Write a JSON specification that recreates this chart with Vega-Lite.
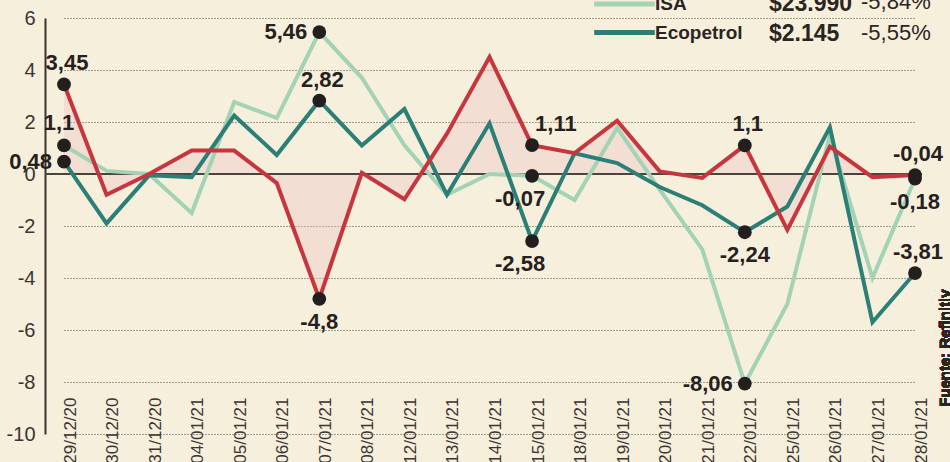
{
  "$schema": "https://vega.github.io/schema/vega-lite/v6.json",
  "width": 877,
  "height": 416,
  "autosize": {"type": "none"},
  "padding": {"left": 45, "top": 18, "right": 28, "bottom": 28},
  "background": "#f6efdc",
  "config": {
    "view": {"stroke": null},
    "font": "Liberation Sans",
    "legend": {"padding": 0},
    "axisY": {"domain": true, "domainColor": "#3a3431", "domainWidth": 2, "domainOpacity": 1},
    "locale": {
      "number": {"decimal": ",", "thousands": ".", "grouping": [3], "currency": ["$", ""], "minus": "-"}
    }
  },
  "data": {
    "values": [
      {"fecha": "29/12/20", "serie": "ISA", "valor": 1.1},
      {"fecha": "30/12/20", "serie": "ISA", "valor": 0.12},
      {"fecha": "31/12/20", "serie": "ISA", "valor": 0.0},
      {"fecha": "04/01/21", "serie": "ISA", "valor": -1.5},
      {"fecha": "05/01/21", "serie": "ISA", "valor": 2.77},
      {"fecha": "06/01/21", "serie": "ISA", "valor": 2.15},
      {"fecha": "07/01/21", "serie": "ISA", "valor": 5.46},
      {"fecha": "08/01/21", "serie": "ISA", "valor": 3.7},
      {"fecha": "12/01/21", "serie": "ISA", "valor": 1.1},
      {"fecha": "13/01/21", "serie": "ISA", "valor": -0.8},
      {"fecha": "14/01/21", "serie": "ISA", "valor": 0.0},
      {"fecha": "15/01/21", "serie": "ISA", "valor": -0.07},
      {"fecha": "18/01/21", "serie": "ISA", "valor": -1.0},
      {"fecha": "19/01/21", "serie": "ISA", "valor": 1.77},
      {"fecha": "20/01/21", "serie": "ISA", "valor": -0.6},
      {"fecha": "21/01/21", "serie": "ISA", "valor": -2.9},
      {"fecha": "22/01/21", "serie": "ISA", "valor": -8.06},
      {"fecha": "25/01/21", "serie": "ISA", "valor": -5.0},
      {"fecha": "26/01/21", "serie": "ISA", "valor": 1.5},
      {"fecha": "27/01/21", "serie": "ISA", "valor": -4.0},
      {"fecha": "28/01/21", "serie": "ISA", "valor": -0.18},
      {"fecha": "29/12/20", "serie": "Ecopetrol", "valor": 0.48},
      {"fecha": "30/12/20", "serie": "Ecopetrol", "valor": -1.9},
      {"fecha": "31/12/20", "serie": "Ecopetrol", "valor": -0.05},
      {"fecha": "04/01/21", "serie": "Ecopetrol", "valor": -0.12},
      {"fecha": "05/01/21", "serie": "Ecopetrol", "valor": 2.25},
      {"fecha": "06/01/21", "serie": "Ecopetrol", "valor": 0.73},
      {"fecha": "07/01/21", "serie": "Ecopetrol", "valor": 2.82},
      {"fecha": "08/01/21", "serie": "Ecopetrol", "valor": 1.1},
      {"fecha": "12/01/21", "serie": "Ecopetrol", "valor": 2.5},
      {"fecha": "13/01/21", "serie": "Ecopetrol", "valor": -0.8},
      {"fecha": "14/01/21", "serie": "Ecopetrol", "valor": 1.95},
      {"fecha": "15/01/21", "serie": "Ecopetrol", "valor": -2.58},
      {"fecha": "18/01/21", "serie": "Ecopetrol", "valor": 0.8},
      {"fecha": "19/01/21", "serie": "Ecopetrol", "valor": 0.42},
      {"fecha": "20/01/21", "serie": "Ecopetrol", "valor": -0.5},
      {"fecha": "21/01/21", "serie": "Ecopetrol", "valor": -1.2},
      {"fecha": "22/01/21", "serie": "Ecopetrol", "valor": -2.24},
      {"fecha": "25/01/21", "serie": "Ecopetrol", "valor": -1.25},
      {"fecha": "26/01/21", "serie": "Ecopetrol", "valor": 1.8},
      {"fecha": "27/01/21", "serie": "Ecopetrol", "valor": -5.7},
      {"fecha": "28/01/21", "serie": "Ecopetrol", "valor": -3.81},
      {"fecha": "29/12/20", "serie": "Otra acción", "valor": 3.45},
      {"fecha": "30/12/20", "serie": "Otra acción", "valor": -0.8},
      {"fecha": "31/12/20", "serie": "Otra acción", "valor": 0.0},
      {"fecha": "04/01/21", "serie": "Otra acción", "valor": 0.9},
      {"fecha": "05/01/21", "serie": "Otra acción", "valor": 0.9},
      {"fecha": "06/01/21", "serie": "Otra acción", "valor": -0.35},
      {"fecha": "07/01/21", "serie": "Otra acción", "valor": -4.8},
      {"fecha": "08/01/21", "serie": "Otra acción", "valor": 0.05},
      {"fecha": "12/01/21", "serie": "Otra acción", "valor": -0.97},
      {"fecha": "13/01/21", "serie": "Otra acción", "valor": 1.55},
      {"fecha": "14/01/21", "serie": "Otra acción", "valor": 4.5},
      {"fecha": "15/01/21", "serie": "Otra acción", "valor": 1.11},
      {"fecha": "18/01/21", "serie": "Otra acción", "valor": 0.8},
      {"fecha": "19/01/21", "serie": "Otra acción", "valor": 2.05},
      {"fecha": "20/01/21", "serie": "Otra acción", "valor": 0.1},
      {"fecha": "21/01/21", "serie": "Otra acción", "valor": -0.15},
      {"fecha": "22/01/21", "serie": "Otra acción", "valor": 1.1},
      {"fecha": "25/01/21", "serie": "Otra acción", "valor": -2.15},
      {"fecha": "26/01/21", "serie": "Otra acción", "valor": 1.05},
      {"fecha": "27/01/21", "serie": "Otra acción", "valor": -0.12},
      {"fecha": "28/01/21", "serie": "Otra acción", "valor": -0.04}
    ]
  },
  "layer": [
    {
      "transform": [{"filter": "datum.serie == 'Otra acción'"}],
      "mark": {"type": "area", "color": "#efc2c4", "opacity": 0.38},
      "encoding": {
        "x": {"field": "fecha", "type": "ordinal", "sort": null, "scale": {"type": "point", "range": [19, 870], "padding": 0},
          "axis": {"title": null, "domain": false, "ticks": false, "grid": false, "labelAngle": -90, "labelAlign": "right", "labelBaseline": "middle",
            "labelPadding": -37, "labelOffset": 6, "labelFontSize": 17, "labelColor": "#3a3533"}},
        "y": {"field": "valor", "type": "quantitative", "scale": {"domain": [-10, 6], "nice": false, "zero": false},
          "axis": {"title": null, "values": [-10, -8, -6, -4, -2, 0, 2, 4, 6], "domain": true, "domainColor": "#3a3431", "domainWidth": 2,
            "ticks": false, "labelPadding": 10, "labelFontSize": 20, "labelColor": "#3a3533",
            "grid": true, "gridColor": "#4a4542", "gridDash": [1, 2], "gridWidth": 1}},
        "y2": {"datum": 0}
      }
    },
    {
      "mark": {"type": "rule", "color": "#4a4440", "strokeWidth": 1.5},
      "encoding": {"y": {"datum": 0}}
    },
    {
      "mark": {"type": "line", "strokeJoin": "miter"},
      "encoding": {
        "x": {"field": "fecha", "type": "ordinal", "sort": null},
        "y": {"field": "valor", "type": "quantitative"},
        "color": {"field": "serie", "type": "nominal",
          "scale": {"domain": ["ISA", "Ecopetrol", "Otra acción"], "range": ["#a3d2b4", "#2c7f76", "#c7353d"]},
          "legend": {"orient": "none", "legendX": 568, "legendY": -25.5, "values": ["ISA", "Ecopetrol"], "title": null,
            "symbolType": "M-3.5,0H3.5", "symbolSize": 300, "symbolStrokeWidth": 5, "rowPadding": 6.5, "labelOffset": 19,
            "labelFontSize": 19, "labelFontWeight": "bold", "labelColor": "#2a2523"}},
        "opacity": {"field": "serie", "type": "nominal",
          "scale": {"domain": ["Ecopetrol", "ISA", "Otra acción"], "range": [1, 1, 1]},
          "legend": {"orient": "none", "legendX": 701, "legendY": -26, "values": ["ISA", "Ecopetrol"], "title": null,
            "symbolSize": 0, "symbolOpacity": 0, "labelOffset": 0, "rowPadding": 6.5,
            "labelFontSize": 23, "labelFontWeight": "bold", "labelColor": "#2a2523",
            "labelExpr": "datum.label == 'ISA' ? '$23.990' : '$2.145'"}},
        "strokeWidth": {"field": "serie", "type": "nominal",
          "scale": {"domain": ["Otra acción", "ISA", "Ecopetrol"], "range": [4, 4, 4]},
          "legend": {"orient": "none", "legendX": 794, "legendY": -27, "values": ["ISA", "Ecopetrol"], "title": null,
            "symbolSize": 0, "symbolOpacity": 0, "symbolStrokeWidth": 0, "labelOffset": 0, "rowPadding": 8.5,
            "labelFontSize": 22, "labelColor": "#2a2523",
            "labelExpr": "datum.label == 'ISA' ? '-5,84%' : '-5,55%'"}}
      }
    },
    {
      "transform": [{"filter": {"field": "fecha", "oneOf": ["29/12/20", "07/01/21", "15/01/21", "22/01/21", "28/01/21"]}}],
      "mark": {"type": "circle", "size": 190, "color": "#231f1f", "opacity": 1},
      "encoding": {
        "x": {"field": "fecha", "type": "ordinal", "sort": null},
        "y": {"field": "valor", "type": "quantitative"}
      }
    },
    {
      "transform": [{"filter": "indexof(['Otra acción|29/12/20','Ecopetrol|07/01/21','Otra acción|22/01/21','Otra acción|28/01/21','Ecopetrol|28/01/21'], datum.serie + '|' + datum.fecha) >= 0"}],
      "mark": {"type": "text", "dy": -21, "dx": 3, "fontSize": 22, "fontWeight": "bold", "color": "#262120", "baseline": "middle"},
      "encoding": {
        "x": {"field": "fecha", "type": "ordinal", "sort": null},
        "y": {"field": "valor", "type": "quantitative"},
        "text": {"field": "valor", "type": "quantitative", "format": ".2~f"}
      }
    },
    {
      "transform": [{"filter": "indexof(['ISA|29/12/20'], datum.serie + '|' + datum.fecha) >= 0"}],
      "mark": {"type": "text", "dy": -22, "dx": -5, "fontSize": 22, "fontWeight": "bold", "color": "#262120", "baseline": "middle"},
      "encoding": {
        "x": {"field": "fecha", "type": "ordinal", "sort": null},
        "y": {"field": "valor", "type": "quantitative"},
        "text": {"field": "valor", "type": "quantitative", "format": ".2~f"}
      }
    },
    {
      "transform": [{"filter": "indexof(['Otra acción|07/01/21','Ecopetrol|22/01/21','ISA|28/01/21'], datum.serie + '|' + datum.fecha) >= 0"}],
      "mark": {"type": "text", "dy": 23, "fontSize": 22, "fontWeight": "bold", "color": "#262120", "baseline": "middle"},
      "encoding": {
        "x": {"field": "fecha", "type": "ordinal", "sort": null},
        "y": {"field": "valor", "type": "quantitative"},
        "text": {"field": "valor", "type": "quantitative", "format": ".2~f"}
      }
    },
    {
      "transform": [{"filter": "indexof(['Ecopetrol|15/01/21','ISA|15/01/21'], datum.serie + '|' + datum.fecha) >= 0"}],
      "mark": {"type": "text", "dy": 23, "dx": -12, "fontSize": 22, "fontWeight": "bold", "color": "#262120", "baseline": "middle"},
      "encoding": {
        "x": {"field": "fecha", "type": "ordinal", "sort": null},
        "y": {"field": "valor", "type": "quantitative"},
        "text": {"field": "valor", "type": "quantitative", "format": ".2~f"}
      }
    },
    {
      "transform": [{"filter": "indexof(['Ecopetrol|29/12/20','ISA|07/01/21','ISA|22/01/21'], datum.serie + '|' + datum.fecha) >= 0"}],
      "mark": {"type": "text", "dx": -12, "align": "right", "fontSize": 22, "fontWeight": "bold", "color": "#262120", "baseline": "middle"},
      "encoding": {
        "x": {"field": "fecha", "type": "ordinal", "sort": null},
        "y": {"field": "valor", "type": "quantitative"},
        "text": {"field": "valor", "type": "quantitative", "format": ".2~f"}
      }
    },
    {
      "transform": [{"filter": "indexof(['Otra acción|15/01/21'], datum.serie + '|' + datum.fecha) >= 0"}],
      "mark": {"type": "text", "dx": 3, "dy": -21, "align": "left", "fontSize": 22, "fontWeight": "bold", "color": "#262120", "baseline": "middle"},
      "encoding": {
        "x": {"field": "fecha", "type": "ordinal", "sort": null},
        "y": {"field": "valor", "type": "quantitative"},
        "text": {"field": "valor", "type": "quantitative", "format": ".2~f"}
      }
    },
    {
      "mark": {"type": "text", "text": "Fuente: Refinitiv", "angle": 270, "align": "center", "baseline": "middle", "dy": 30, "fontSize": 15, "fontWeight": "bold", "color": "#2a2523"},
      "encoding": {
        "x": {"datum": "28/01/21"},
        "y": {"datum": -6.7}
      }
    }
  ]
}
